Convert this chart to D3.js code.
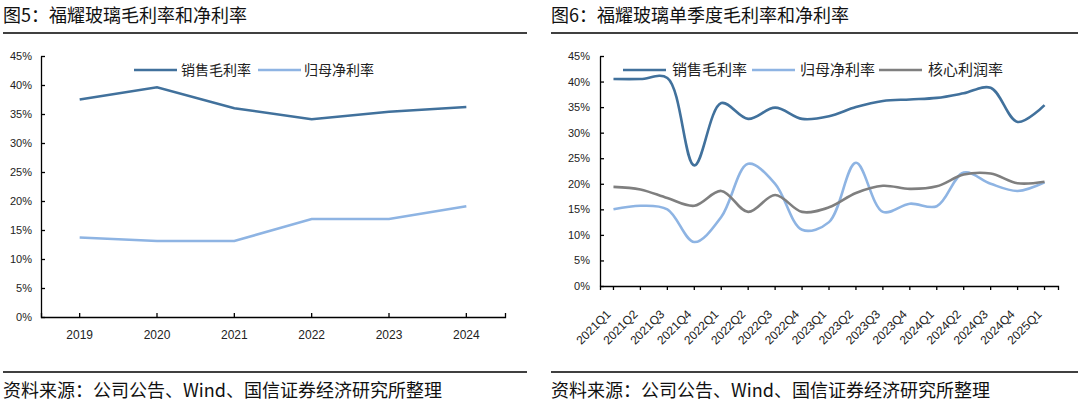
<!DOCTYPE html>
<html>
<head>
<meta charset="utf-8">
<script src="https://cdn.jsdelivr.net/npm/d3@7"></script>
<style>
  body { margin: 0; background: #fff; }
  text { font-family: Arial, "Liberation Sans", sans-serif; }
  .cjk { font-family: "Noto Sans CJK SC", sans-serif; }
</style>
</head>
<body>
<div id="chart"></div>
<script>
// data
let years = ["2019", "2020", "2021", "2022", "2023", "2024"];
let annualGross = [0.375, 0.396, 0.360, 0.341, 0.354, 0.362];
let annualNet = [0.137, 0.131, 0.131, 0.169, 0.169, 0.191];

let quarters = ["2021Q1", "2021Q2", "2021Q3", "2021Q4", "2022Q1", "2022Q2", "2022Q3", "2022Q4",
  "2023Q1", "2023Q2", "2023Q3", "2023Q4", "2024Q1", "2024Q2", "2024Q3", "2024Q4", "2025Q1"];
let qGross = [0.405, 0.405, 0.407, 0.236, 0.358, 0.327, 0.349, 0.327, 0.332, 0.350, 0.362, 0.365,
  0.368, 0.377, 0.388, 0.321, 0.354];
let qNet = [0.150, 0.157, 0.150, 0.086, 0.135, 0.239, 0.200, 0.110, 0.125, 0.241, 0.145, 0.161,
  0.156, 0.222, 0.200, 0.186, 0.203];
let qCore = [0.194, 0.189, 0.172, 0.157, 0.186, 0.145, 0.178, 0.145, 0.154, 0.182, 0.196, 0.190,
  0.195, 0.218, 0.220, 0.201, 0.204];

let yTicks = [0, 0.05, 0.10, 0.15, 0.20, 0.25, 0.30, 0.35, 0.40, 0.45];
let leftNames = ["销售毛利率", "归母净利率"];
let rightNames = ["销售毛利率", "归母净利率", "核心利润率"];
let colors = ["#41719c", "#8eb4e3", "#7f7f7f"];

let svg = d3.select("#chart").append("svg")
    .attr("width", 1080)
    .attr("height", 405);

// titles, rules and source notes
function frame(x0, x1, title) {
  svg.append("text").attr("class", "cjk")
      .attr("x", x0).attr("y", 22)
      .style("font-size", "18px").style("fill", "#111")
      .text(title);
  svg.append("line").attr("x1", x0).attr("x2", x1).attr("y1", 33).attr("y2", 33)
      .style("stroke", "#000").style("stroke-width", 1.5);
  svg.append("line").attr("x1", x0).attr("x2", x1).attr("y1", 372).attr("y2", 372)
      .style("stroke", "#000").style("stroke-width", 1.5);
  svg.append("text").attr("class", "cjk")
      .attr("x", x0).attr("y", 397)
      .style("font-size", "18px").style("fill", "#111")
      .text("资料来源：公司公告、Wind、国信证券经济研究所整理");
}
frame(3, 527, "图5：福耀玻璃毛利率和净利率");
frame(551, 1078, "图6：福耀玻璃单季度毛利率和净利率");

// ---------- left chart ----------
let x1 = d3.scaleBand().domain(years).range([41, 505]);
let y1 = d3.scaleLinear().domain([0, 0.45]).range([317, 56]);

let gx1 = svg.append("g")
    .attr("transform", "translate(0,317)")
    .call(d3.axisBottom(x1).tickSize(-4).tickSizeOuter(-4).tickPadding(13));
gx1.selectAll("text").style("font-size", "12px").style("fill", "#222");

let gy1 = svg.append("g")
    .attr("transform", "translate(41,0)")
    .call(d3.axisLeft(y1).tickValues(yTicks).tickSize(-4).tickSizeOuter(0).tickPadding(9)
      .tickFormat(d3.format(".0%")));
gy1.selectAll("text").style("font-size", "11px").style("fill", "#222");

[gx1, gy1].forEach(function (g) {
  g.selectAll("path, line").style("stroke", "#000").style("stroke-width", 1.3);
});

let line1 = d3.line()
    .x(function (d, i) { return x1(years[i]) + x1.bandwidth() / 2; })
    .y(function (d) { return y1(d); });

[annualGross, annualNet].forEach(function (s, k) {
  svg.append("path").datum(s)
      .attr("d", line1)
      .style("fill", "none")
      .style("stroke", colors[k])
      .style("stroke-width", 2.6);
});

// left legend
let leg1 = [{x: 134, tx: 181}, {x: 258, tx: 304}];
leftNames.forEach(function (n, k) {
  svg.append("line").attr("x1", leg1[k].x).attr("x2", leg1[k].x + 43)
      .attr("y1", 70).attr("y2", 70)
      .style("stroke", colors[k]).style("stroke-width", 2.6);
  svg.append("text").attr("class", "cjk")
      .attr("x", leg1[k].tx).attr("y", 75)
      .style("font-size", "14px").style("fill", "#222")
      .text(n);
});

// ---------- right chart ----------
let x2 = d3.scaleBand().domain(quarters).range([600, 1058]);
let y2 = d3.scaleLinear().domain([0, 0.45]).range([286, 56]);

let gx2 = svg.append("g")
    .attr("transform", "translate(0,286)")
    .call(d3.axisBottom(x2).tickSize(4).tickSizeOuter(4));
gx2.selectAll("text")
    .attr("y", 0).attr("dy", "0.35em")
    .attr("transform", "translate(-5,26) rotate(-45)")
    .style("text-anchor", "end")
    .style("font-size", "12px").style("fill", "#222");

let gy2 = svg.append("g")
    .attr("transform", "translate(600,0)")
    .call(d3.axisLeft(y2).tickValues(yTicks).tickSize(-4).tickSizeOuter(0).tickPadding(10)
      .tickFormat(d3.format(".0%")));
gy2.selectAll("text").style("font-size", "11px").style("fill", "#222");

[gx2, gy2].forEach(function (g) {
  g.selectAll("path, line").style("stroke", "#000").style("stroke-width", 1.3);
});

let line2 = d3.line()
    .x(function (d, i) { return x2(quarters[i]) + x2.bandwidth() / 2; })
    .y(function (d) { return y2(d); })
    .curve(d3.curveCatmullRom.alpha(0.5));

[qGross, qNet, qCore].forEach(function (s, k) {
  svg.append("path").datum(s)
      .attr("d", line2)
      .style("fill", "none")
      .style("stroke", colors[k])
      .style("stroke-width", 2.6);
});

// right legend
let leg2 = [{x: 623, tx: 672}, {x: 752, tx: 800}, {x: 879, tx: 928}];
rightNames.forEach(function (n, k) {
  svg.append("line").attr("x1", leg2[k].x).attr("x2", leg2[k].x + 43)
      .attr("y1", 70).attr("y2", 70)
      .style("stroke", colors[k]).style("stroke-width", 2.6);
  svg.append("text").attr("class", "cjk")
      .attr("x", leg2[k].tx).attr("y", 75)
      .style("font-size", "15px").style("fill", "#222")
      .text(n);
});
</script>
</body>
</html>
